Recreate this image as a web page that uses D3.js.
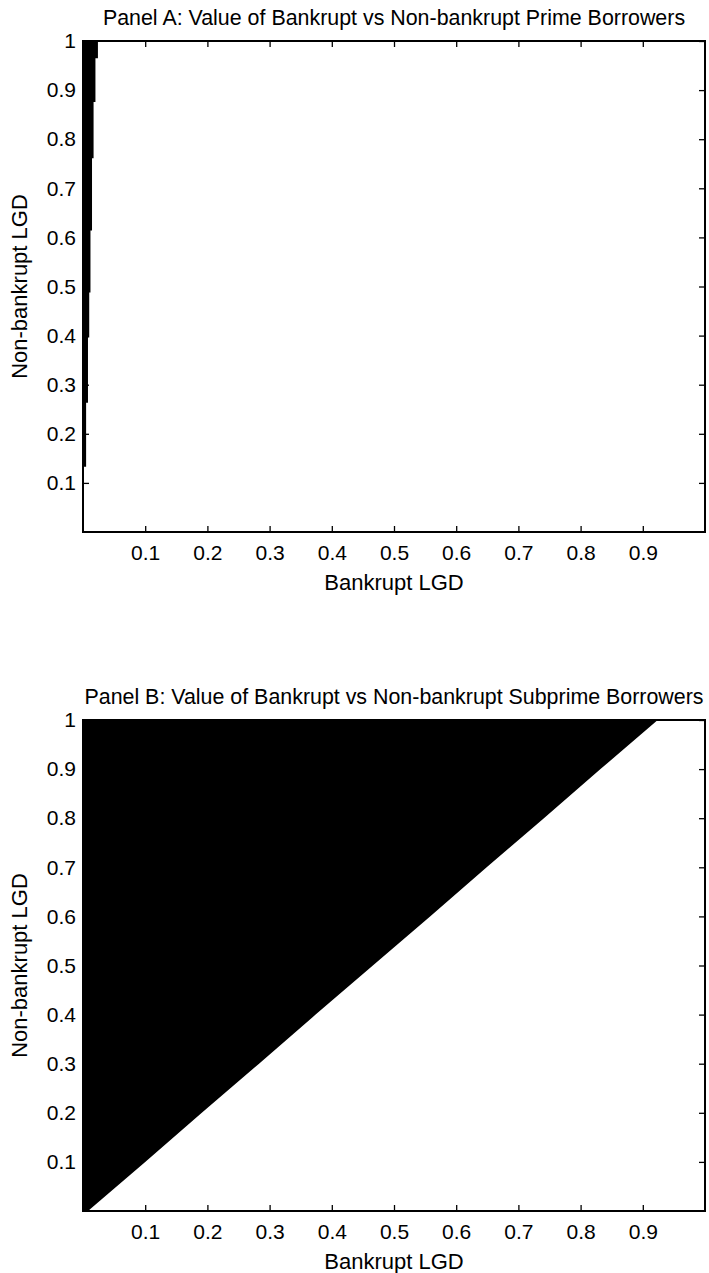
<!DOCTYPE html>
<html>
<head>
<meta charset="utf-8">
<script src="https://cdn.jsdelivr.net/npm/d3@7"></script>
<style>
  body { margin: 0; background: #fff; }
  svg { display: block; font-family: "Liberation Sans", Arial, sans-serif; }
</style>
</head>
<body>
<div id="chart"></div>
<script>
// tick labels
const xTicks = [0.1, 0.2, 0.3, 0.4, 0.5, 0.6, 0.7, 0.8, 0.9]
const yTicks = [0.1, 0.2, 0.3, 0.4, 0.5, 0.6, 0.7, 0.8, 0.9, 1]

// Panel A: bands of non-bankrupt LGD (lower edge) and the bankrupt LGD cutoff below which bankrupt is worth more
const primeBandLow = [0.133, 0.263, 0.396, 0.488, 0.614, 0.761, 0.876, 0.965, 1]
const primeCutoff = [0.005, 0.008, 0.010, 0.012, 0.0145, 0.017, 0.020, 0.024, 0.024]

// Panel B: cutoff line read along non-bankrupt LGD
const subprimeNB = [0, 0.1, 0.2, 0.3, 0.4, 0.5, 0.6, 0.7, 0.8, 0.9, 1]
const subprimeCutoff = [0.008, 0.100, 0.191, 0.283, 0.374, 0.466, 0.558, 0.649, 0.741, 0.832, 0.924]

const titles = [
    "Panel A: Value of Bankrupt vs Non-bankrupt Prime Borrowers",
    "Panel B: Value of Bankrupt vs Non-bankrupt Subprime Borrowers"
]

const width = 709, height = 1273
const svg = d3.select("#chart").append("svg")
    .attr("width", width)
    .attr("height", height)

function panel(top, title, nb, cutoff, curve) {
    const left = 83, right = 705, bottom = top + 491

    const x = d3.scaleLinear().domain([0, 1]).range([left, right])
    const y = d3.scaleLinear().domain([0, 1]).range([bottom, top])

    const g = svg.append("g")

    // black region: bankrupt value above non-bankrupt value
    const area = d3.area()
        .y((d, i) => y(nb[i]))
        .x0(x(0))
        .x1(d => x(d))
        .curve(curve)
    g.append("path")
        .datum(cutoff)
        .attr("d", area)
        .attr("fill", "#000")

    // ticks (inward, on all four sides)
    g.append("g")
        .attr("transform", `translate(0,${bottom})`)
        .call(d3.axisBottom(x).tickValues(xTicks).tickSize(-6).tickPadding(13).tickFormat(d3.format("")))
    g.append("g")
        .attr("transform", `translate(0,${top})`)
        .call(d3.axisTop(x).tickValues(xTicks).tickSize(-6).tickFormat(""))
    g.append("g")
        .attr("transform", `translate(${left},0)`)
        .call(d3.axisLeft(y).tickValues(yTicks).tickSize(-6).tickPadding(7).tickFormat(d3.format("")))
    g.append("g")
        .attr("transform", `translate(${right},0)`)
        .call(d3.axisRight(y).tickValues(yTicks).tickSize(-6).tickFormat(""))

    g.selectAll(".domain").remove()
    g.selectAll(".tick line").attr("stroke", "#000").attr("stroke-width", 1.3)
    g.selectAll(".tick text").attr("font-size", 21).attr("fill", "#000")
        .attr("font-family", "Liberation Sans, Arial, sans-serif")

    // box
    g.append("rect")
        .attr("x", left).attr("y", top)
        .attr("width", right - left).attr("height", bottom - top)
        .attr("fill", "none").attr("stroke", "#000").attr("stroke-width", 2)

    // title
    g.append("text")
        .attr("x", (left + right) / 2)
        .attr("y", top - 16)
        .attr("text-anchor", "middle")
        .attr("font-size", 21.4)
        .text(title)

    // axis labels
    g.append("text")
        .attr("x", (left + right) / 2)
        .attr("y", bottom + 58)
        .attr("text-anchor", "middle")
        .attr("font-size", 22)
        .text("Bankrupt LGD")

    g.append("text")
        .attr("transform", `translate(27,${(top + bottom) / 2}) rotate(-90)`)
        .attr("text-anchor", "middle")
        .attr("font-size", 22)
        .text("Non-bankrupt LGD")
}

panel(41, titles[0], primeBandLow, primeCutoff, d3.curveStepBefore)
panel(720, titles[1], subprimeNB, subprimeCutoff, d3.curveLinear)
</script>
</body>
</html>
